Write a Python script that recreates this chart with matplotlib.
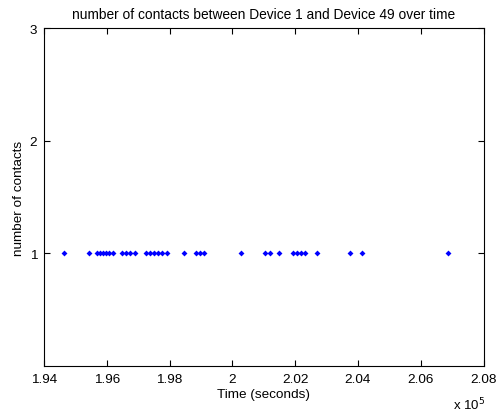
import matplotlib
matplotlib.use("Agg")
import matplotlib.pyplot as plt

plt.rcParams['font.family'] = ['Liberation Sans', 'DejaVu Sans']

# Contact times (seconds) between Device 1 and Device 49
contact_times = [
    194637, 195418, 195689, 195785, 195880, 195976, 196072, 196199,
    196486, 196613, 196741, 196900,
    197251, 197378, 197506, 197633, 197761, 197920,
    198462, 198844, 198972, 199099,
    200278, 201043, 201203, 201489,
    201936, 202063, 202191, 202318, 202701,
    203752, 204135, 206875,
]
contact_counts = [1] * len(contact_times)

x_ticks = [194000, 196000, 198000, 200000, 202000, 204000, 206000, 208000]
x_tick_labels = ['1.94', '1.96', '1.98', '2', '2.02', '2.04', '2.06', '2.08']
y_ticks = [1, 2, 3]

fig = plt.figure(figsize=(4.96, 4.14), dpi=100)
ax = fig.add_axes([44 / 496, 1 - 367 / 414, (483.5 - 44) / 496, (367 - 29) / 414])

ax.plot(contact_times, contact_counts, linestyle='none', marker='D',
        markersize=3, color='#0000ff', markeredgewidth=0)

ax.set_xlim(194000, 208000)
ax.set_ylim(0, 3)
ax.set_xticks(x_ticks)
ax.set_xticklabels(x_tick_labels)
ax.set_yticks(y_ticks)
ax.tick_params(direction='in', length=4, width=0.8, top=True, right=True,
               labelsize=9.7, pad=5, colors='black')
for s in ax.spines.values():
    s.set_linewidth(0.8)

ax.set_title('number of contacts between Device 1 and Device 49 over time',
             fontsize=9.9, pad=7)
ax.set_xlabel('Time (seconds)', fontsize=9.7, labelpad=2)
ax.set_ylabel('number of contacts', fontsize=9.7, labelpad=3)
fig.text(453 / 496, 1 - 405 / 414, r'x 10$^5$', fontsize=9.5, va='center', ha='left')

fig.savefig('out.png', dpi=100, facecolor='white')
